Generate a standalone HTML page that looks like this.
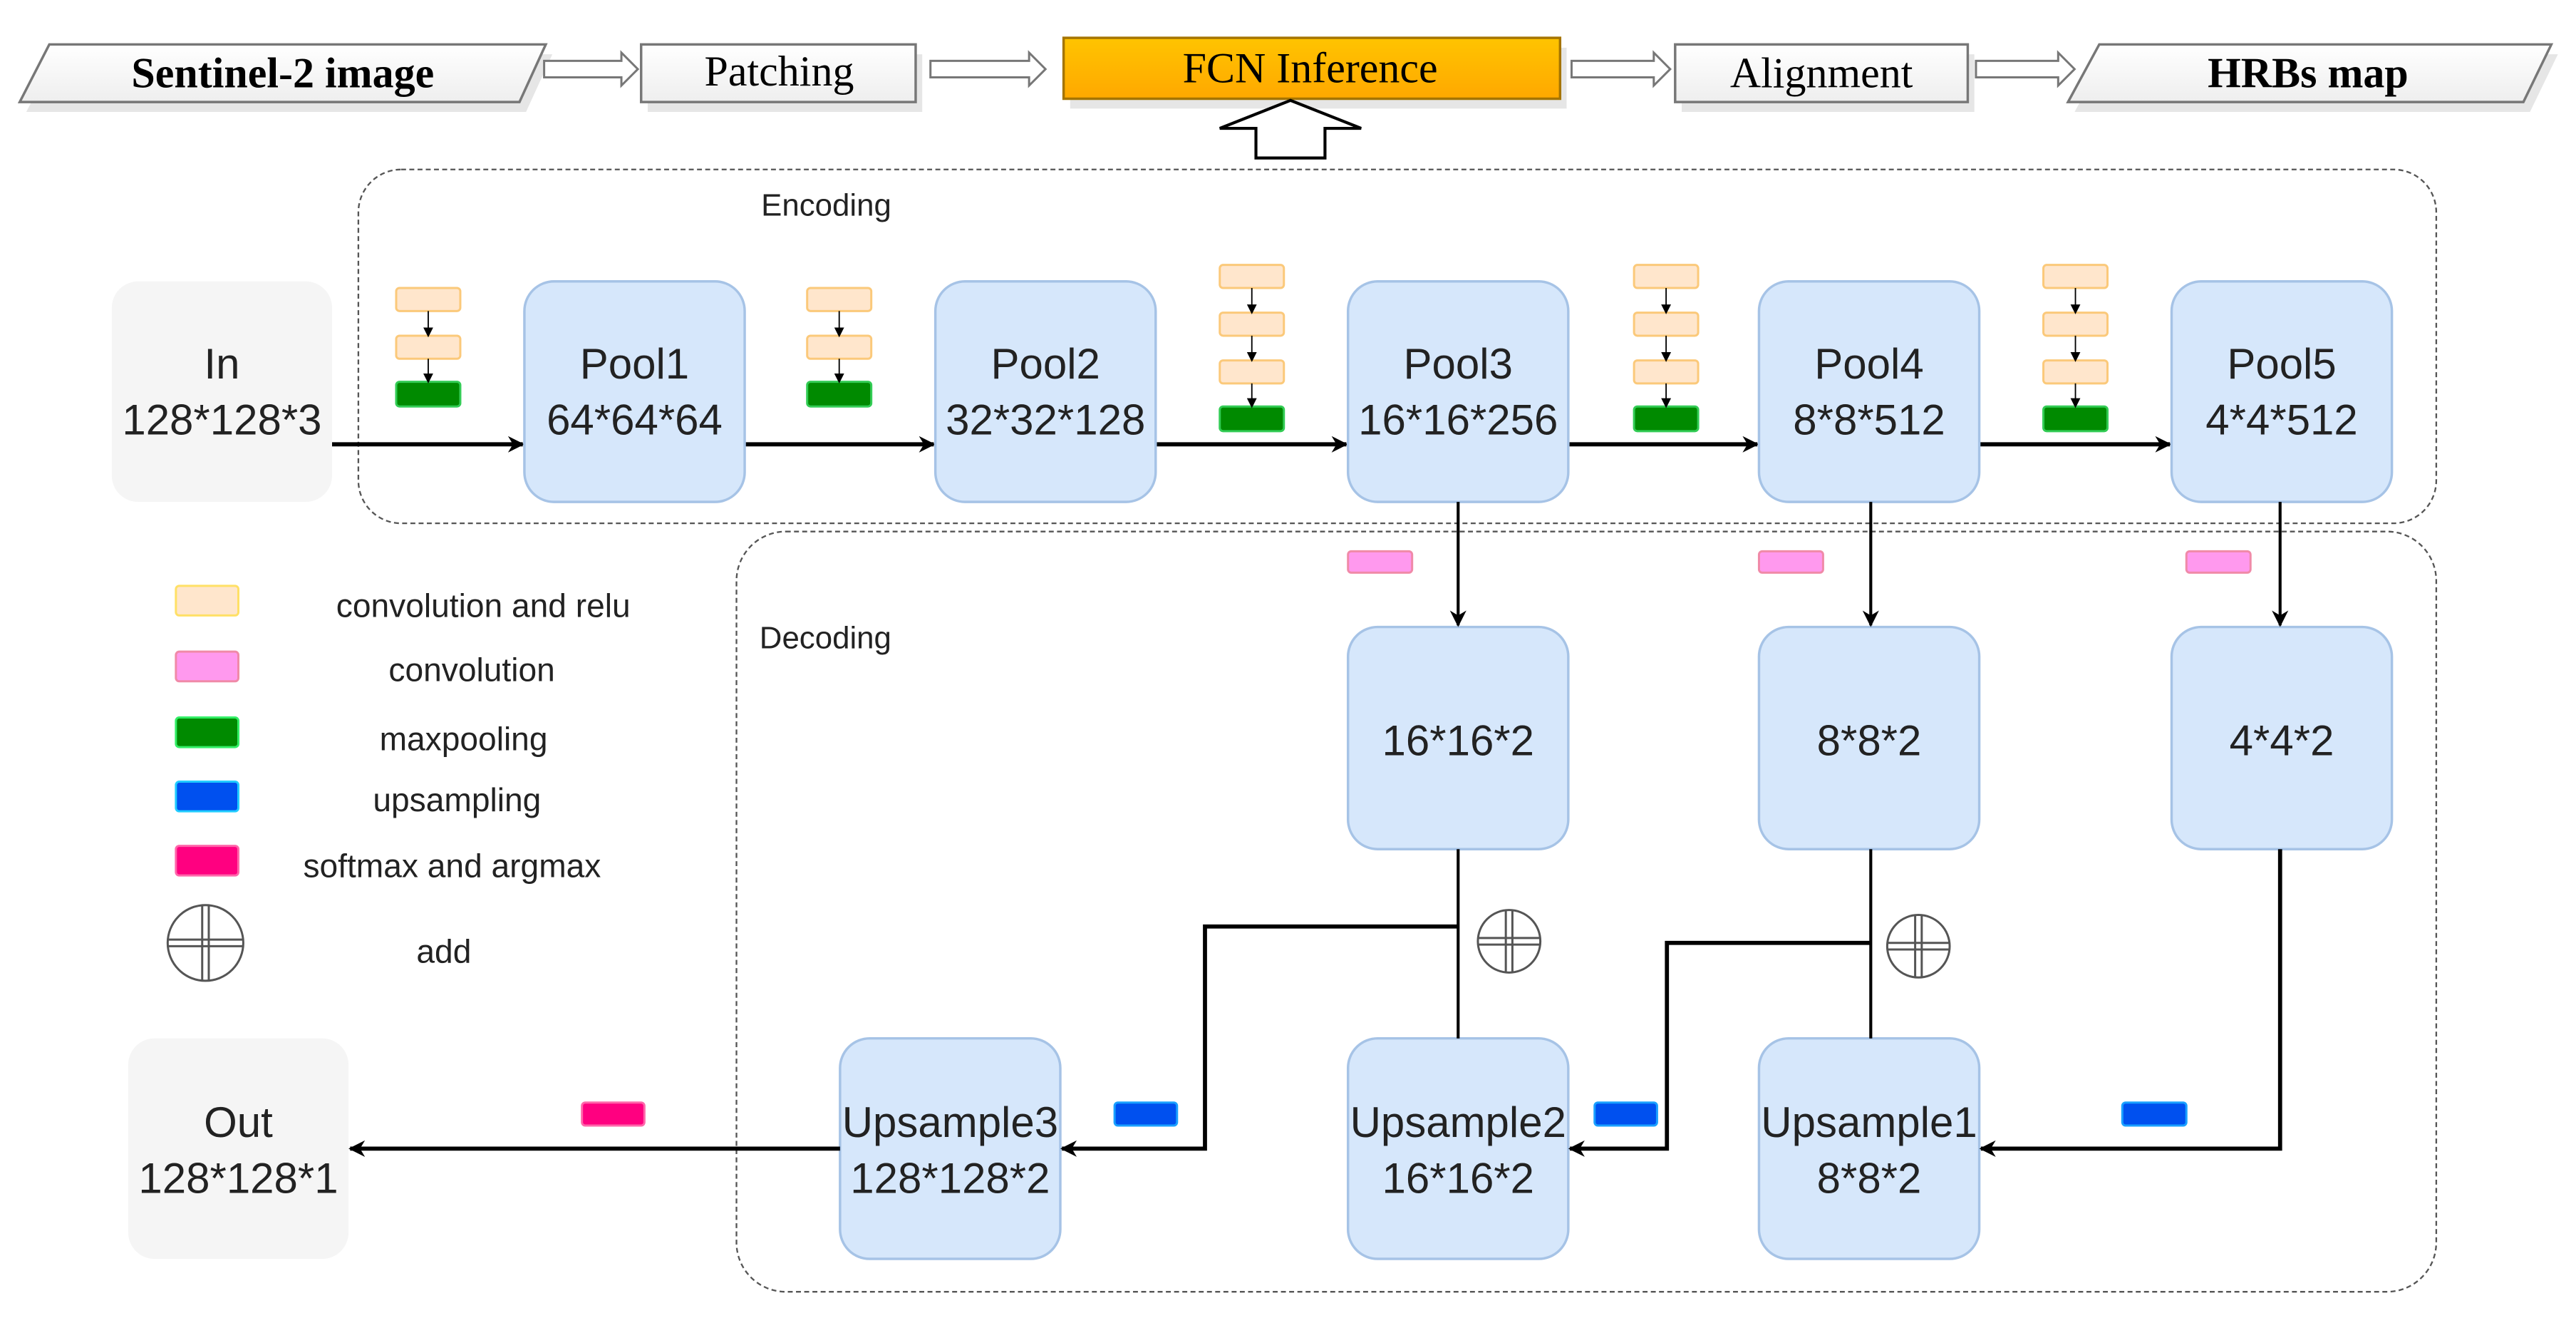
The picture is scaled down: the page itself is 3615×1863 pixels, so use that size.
<!DOCTYPE html>
<html><head><meta charset="utf-8"><style>html,body{margin:0;padding:0;background:#fff}svg{display:block}</style></head>
<body>
<svg width="3615" height="1863" viewBox="0 0 1567 807" preserveAspectRatio="none" xmlns="http://www.w3.org/2000/svg">
<defs>
<marker id="ah" markerWidth="10" markerHeight="10" refX="9" refY="5" orient="auto" markerUnits="userSpaceOnUse"><path d="M0,0 L10,5 L0,10 L3,5 Z" fill="#000"/></marker>
<marker id="as" markerWidth="6" markerHeight="6" refX="5" refY="3" orient="auto" markerUnits="userSpaceOnUse"><path d="M0,0 L6,3 L0,6 Z" fill="#000"/></marker>
<linearGradient id="og" x1="0" y1="0" x2="0" y2="1"><stop offset="0" stop-color="#ffc400"/><stop offset="1" stop-color="#ffa800"/></linearGradient>
<linearGradient id="wg" x1="0" y1="0" x2="0" y2="1"><stop offset="0" stop-color="#ffffff"/><stop offset="1" stop-color="#eeeeee"/></linearGradient>
</defs>
<g font-family="Liberation Serif, serif" font-size="26" text-anchor="middle">
<polygon points="16,68 34,33 336,33 320,68" fill="#e6e6e6"/>
<rect x="394" y="33" width="167" height="35" fill="#e6e6e6"/>
<rect x="651" y="29" width="302" height="37" fill="#e6e6e6"/>
<rect x="1023" y="33" width="178" height="35" fill="#e6e6e6"/>
<polygon points="1262,68 1281,33 1556,33 1539,68" fill="#e6e6e6"/>
<polygon points="12,62 30,27 332,27 316,62" fill="url(#wg)" stroke="#777" stroke-width="1.5"/>
<text x="172" y="53" font-weight="bold">Sentinel-2 image</text>
<rect x="390" y="27" width="167" height="35" fill="url(#wg)" stroke="#777" stroke-width="1.5"/>
<text x="474" y="52">Patching</text>
<rect x="647" y="23" width="302" height="37" fill="url(#og)" stroke="#a57400" stroke-width="1.5"/>
<text x="797" y="50">FCN Inference</text>
<rect x="1019" y="27" width="178" height="35" fill="url(#wg)" stroke="#777" stroke-width="1.5"/>
<text x="1108" y="53">Alignment</text>
<polygon points="1258,62 1277,27 1552,27 1535,62" fill="url(#wg)" stroke="#777" stroke-width="1.5"/>
<text x="1404" y="53" font-weight="bold">HRBs map</text>
</g>
<g fill="#fff" stroke="#777" stroke-width="1.3">
<polygon points="331,37 378,37 378,32 388,42 378,52 378,47 331,47"/>
<polygon points="566,37 626,37 626,32 636,42 626,52 626,47 566,47"/>
<polygon points="956,37 1006,37 1006,32 1016,42 1006,52 1006,47 956,47"/>
<polygon points="1202,37 1252,37 1252,32 1262,42 1252,52 1252,47 1202,47"/>
</g>
<polygon points="785,61 828,78 806,78 806,96 764,96 764,78 742,78" fill="#fff" stroke="#000" stroke-width="1.8"/>
<rect x="218" y="103" width="1264" height="215" rx="26" fill="none" stroke="#555" stroke-width="1" stroke-dasharray="3,2"/>
<rect x="448" y="323" width="1034" height="462" rx="30" fill="none" stroke="#555" stroke-width="1" stroke-dasharray="3,2"/>
<g font-family="Liberation Sans, sans-serif" font-size="19" fill="#222">
<text x="463" y="131">Encoding</text>
<text x="462" y="394">Decoding</text>
</g>
<g stroke="#000" stroke-width="2.5" marker-end="url(#ah)">
<line x1="202" y1="270" x2="318" y2="270"/>
<line x1="453" y1="270" x2="568" y2="270"/>
<line x1="703" y1="270" x2="819" y2="270"/>
<line x1="954" y1="270" x2="1069" y2="270"/>
<line x1="1204" y1="270" x2="1320" y2="270"/>
</g>
<g font-family="Liberation Sans, sans-serif" font-size="26" text-anchor="middle" fill="#222">
<rect x="68" y="171" width="134" height="134" rx="16" fill="#f5f5f5"/>
<text x="135" y="230">In</text><text x="135" y="264">128*128*3</text>
<rect x="78" y="631" width="134" height="134" rx="16" fill="#f5f5f5"/>
<text x="145" y="691">Out</text><text x="145" y="725">128*128*1</text>
<g fill="#d6e7fb" stroke="#a6c3e6" stroke-width="1.5">
<rect x="319" y="171" width="134" height="134" rx="18"/>
<rect x="569" y="171" width="134" height="134" rx="18"/>
<rect x="820" y="171" width="134" height="134" rx="18"/>
<rect x="1070" y="171" width="134" height="134" rx="18"/>
<rect x="1321" y="171" width="134" height="134" rx="18"/>
<rect x="820" y="381" width="134" height="135" rx="18"/>
<rect x="1070" y="381" width="134" height="135" rx="18"/>
<rect x="1321" y="381" width="134" height="135" rx="18"/>
<rect x="511" y="631" width="134" height="134" rx="18"/>
<rect x="820" y="631" width="134" height="134" rx="18"/>
<rect x="1070" y="631" width="134" height="134" rx="18"/>
</g>
<text x="386" y="230">Pool1</text><text x="386" y="264">64*64*64</text>
<text x="636" y="230">Pool2</text><text x="636" y="264">32*32*128</text>
<text x="887" y="230">Pool3</text><text x="887" y="264">16*16*256</text>
<text x="1137" y="230">Pool4</text><text x="1137" y="264">8*8*512</text>
<text x="1388" y="230">Pool5</text><text x="1388" y="264">4*4*512</text>
<text x="887" y="459">16*16*2</text>
<text x="1137" y="459">8*8*2</text>
<text x="1388" y="459">4*4*2</text>
<text x="578" y="691">Upsample3</text><text x="578" y="725">128*128*2</text>
<text x="887" y="691">Upsample2</text><text x="887" y="725">16*16*2</text>
<text x="1137" y="691">Upsample1</text><text x="1137" y="725">8*8*2</text>
</g>
<g stroke-width="1.3">
<g fill="#ffe6cc" stroke="#fbc97a">
<rect x="241" y="175" width="39" height="14" rx="2"/><rect x="241" y="204" width="39" height="14" rx="2"/>
<rect x="491" y="175" width="39" height="14" rx="2"/><rect x="491" y="204" width="39" height="14" rx="2"/>
<rect x="742" y="161" width="39" height="14" rx="2"/><rect x="742" y="190" width="39" height="14" rx="2"/><rect x="742" y="219" width="39" height="14" rx="2"/>
<rect x="994" y="161" width="39" height="14" rx="2"/><rect x="994" y="190" width="39" height="14" rx="2"/><rect x="994" y="219" width="39" height="14" rx="2"/>
<rect x="1243" y="161" width="39" height="14" rx="2"/><rect x="1243" y="190" width="39" height="14" rx="2"/><rect x="1243" y="219" width="39" height="14" rx="2"/>
</g>
<g fill="#008a00" stroke="#33cc55">
<rect x="241" y="232" width="39" height="15" rx="2"/><rect x="491" y="232" width="39" height="15" rx="2"/>
<rect x="742" y="247" width="39" height="15" rx="2"/><rect x="994" y="247" width="39" height="15" rx="2"/><rect x="1243" y="247" width="39" height="15" rx="2"/>
</g>
</g>
<g stroke="#000" stroke-width="0.8" marker-end="url(#as)">
<line x1="260.5" y1="189" x2="260.5" y2="204"/><line x1="260.5" y1="218" x2="260.5" y2="232"/>
<line x1="510.5" y1="189" x2="510.5" y2="204"/><line x1="510.5" y1="218" x2="510.5" y2="232"/>
<line x1="761.5" y1="175" x2="761.5" y2="190"/><line x1="761.5" y1="204" x2="761.5" y2="219"/><line x1="761.5" y1="233" x2="761.5" y2="247"/>
<line x1="1013.5" y1="175" x2="1013.5" y2="190"/><line x1="1013.5" y1="204" x2="1013.5" y2="219"/><line x1="1013.5" y1="233" x2="1013.5" y2="247"/>
<line x1="1262.5" y1="175" x2="1262.5" y2="190"/><line x1="1262.5" y1="204" x2="1262.5" y2="219"/><line x1="1262.5" y1="233" x2="1262.5" y2="247"/>
</g>
<g stroke="#000" stroke-width="1.8" fill="none">
<line x1="887" y1="305" x2="887" y2="380" marker-end="url(#ah)"/>
<line x1="1138" y1="305" x2="1138" y2="380" marker-end="url(#ah)"/>
<line x1="1387" y1="305" x2="1387" y2="380" marker-end="url(#ah)"/>
<line x1="887" y1="516" x2="887" y2="631"/>
<line x1="1138" y1="516" x2="1138" y2="631"/>
</g>
<g stroke="#000" stroke-width="2.5" fill="none">
<polyline points="887,563 733,563 733,698 646,698" marker-end="url(#ah)"/>
<polyline points="1138,573 1014,573 1014,698 955,698" marker-end="url(#ah)"/>
<polyline points="1387,516 1387,698 1205,698" marker-end="url(#ah)"/>
<line x1="511" y1="698" x2="213" y2="698" marker-end="url(#ah)"/>
</g>
<g fill="#fff" stroke="#555" stroke-width="1.3">
<circle cx="918" cy="572" r="19"/><path d="M916,553 V591 M920,553 V591 M899,570 H937 M899,574 H937"/>
<circle cx="1167" cy="575" r="19"/><path d="M1165,556 V594 M1169,556 V594 M1148,573 H1186 M1148,577 H1186"/>
<circle cx="125" cy="573" r="23"/><path d="M123,550 V596 M127,550 V596 M102,571 H148 M102,575 H148"/>
</g>
<g stroke-width="1.3">
<g fill="#ff99ee" stroke="#f08aa8"><rect x="820" y="335" width="39" height="13" rx="2"/><rect x="1070" y="335" width="39" height="13" rx="2"/><rect x="1330" y="335" width="39" height="13" rx="2"/></g>
<g fill="#0050ef" stroke="#1aa0ff"><rect x="678" y="670" width="38" height="14" rx="2"/><rect x="970" y="670" width="38" height="14" rx="2"/><rect x="1291" y="670" width="39" height="14" rx="2"/></g>
<rect x="354" y="670" width="38" height="14" rx="2" fill="#ff0080" stroke="#ff66aa"/>
<rect x="107" y="356" width="38" height="18" rx="2" fill="#ffe6cc" stroke="#ffe066"/>
<rect x="107" y="396" width="38" height="18" rx="2" fill="#ff99ee" stroke="#f08aa8"/>
<rect x="107" y="436" width="38" height="18" rx="2" fill="#008a00" stroke="#33ee66"/>
<rect x="107" y="475" width="38" height="18" rx="2" fill="#0050ef" stroke="#22ccff"/>
<rect x="107" y="514" width="38" height="18" rx="2" fill="#ff0080" stroke="#ff66aa"/>
</g>
<g font-family="Liberation Sans, sans-serif" font-size="20" text-anchor="middle" fill="#222">
<text x="294" y="375">convolution and relu</text>
<text x="287" y="414">convolution</text>
<text x="282" y="456">maxpooling</text>
<text x="278" y="493">upsampling</text>
<text x="275" y="533">softmax and argmax</text>
<text x="270" y="585">add</text>
</g>
</svg>
</body></html>
